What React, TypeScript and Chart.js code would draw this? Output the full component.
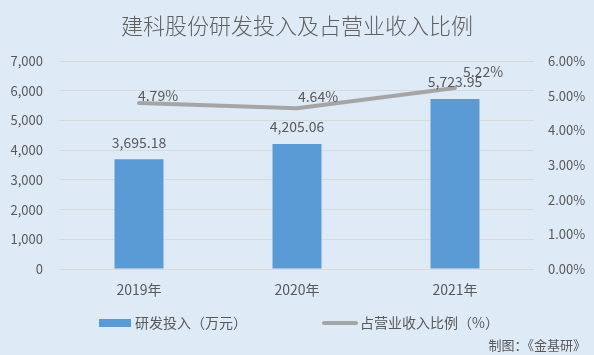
import React, { useEffect, useRef } from "react";
import { Chart, registerables } from "chart.js";

Chart.register(...registerables);

const TITLE = "建科股份研发投入及占营业收入比例";
const SOURCE = "制图：《金基研》";
const categories = ["2019年", "2020年", "2021年"];
const rdInvestment = [3695.18, 4205.06, 5723.95];
const rdRatio = [4.79, 4.64, 5.22];
const barSeriesName = "研发投入（万元）";
const lineSeriesName = "占营业收入比例（%）";
// label offsets for the ratio labels (style only)
const ratioLabelOffsets = [
  [19, -7],
  [21, -11],
  [28, -16],
];

const FONT = '"Noto Sans CJK SC", "Noto Sans", sans-serif';
const TEXT = "#595959";
const BG = "#DEEAF6";
const BAR = "#5B9BD5";
const LINE = "#A5A5A5";

const decorPlugin = {
  id: "decor",
  beforeDraw(chart: any) {
    const { ctx, width, height } = chart;
    ctx.save();
    ctx.fillStyle = BG;
    ctx.fillRect(0, 0, width, height);
    ctx.restore();
  },
  afterDraw(chart: any) {
    const { ctx, width } = chart;
    ctx.save();
    // title
    ctx.fillStyle = "#606060";
    ctx.font = `300 22px ${FONT}`;
    ctx.textAlign = "center";
    ctx.textBaseline = "middle";
    ctx.fillText(TITLE, width / 2, 26);

    // legend
    ctx.fillStyle = TEXT;
    ctx.font = `14px ${FONT}`;
    ctx.textAlign = "left";
    ctx.fillStyle = BAR;
    ctx.fillRect(99, 319, 32, 8);
    ctx.fillStyle = TEXT;
    ctx.fillText(barSeriesName, 135, 323);
    ctx.strokeStyle = LINE;
    ctx.lineWidth = 4;
    ctx.lineCap = "round";
    ctx.beginPath();
    ctx.moveTo(324, 323);
    ctx.lineTo(356, 323);
    ctx.stroke();
    ctx.fillText(lineSeriesName, 360, 323);

    // footer
    ctx.font = `13px ${FONT}`;
    ctx.textAlign = "right";
    ctx.fillText(SOURCE, 586, 345);
    ctx.restore();
  },
  afterDatasetsDraw(chart: any) {
    const { ctx } = chart;
    ctx.save();
    ctx.fillStyle = TEXT;
    ctx.font = `14px ${FONT}`;
    ctx.textBaseline = "middle";
    ctx.textAlign = "center";
    chart.data.datasets.forEach((ds: any, di: number) => {
      const meta = chart.getDatasetMeta(di);
      meta.data.forEach((el: any, i: number) => {
        const v = ds.data[i];
        if (ds.type === "line") {
          const [dx, dy] = ratioLabelOffsets[i];
          ctx.fillText(v.toFixed(2) + "%", el.x + dx, el.y + dy);
        } else {
          const s = v.toLocaleString("en-US", {
            minimumFractionDigits: 2,
            maximumFractionDigits: 2,
          });
          ctx.fillText(s, el.x, el.y - 17);
        }
      });
    });
    ctx.restore();
  },
};

export default function App() {
  const ref = useRef<HTMLCanvasElement>(null);
  useEffect(() => {
    const chart = new Chart(ref.current as HTMLCanvasElement, {
      type: "bar",
      data: {
        labels: categories,
        datasets: [
          {
            type: "line",
            label: lineSeriesName,
            data: rdRatio,
            yAxisID: "y1",
            borderColor: LINE,
            backgroundColor: LINE,
            borderWidth: 4,
            borderCapStyle: "round",
            pointRadius: 0,
            tension: 0,
            order: 0,
          } as any,
          {
            type: "bar",
            label: barSeriesName,
            data: rdInvestment,
            yAxisID: "y",
            backgroundColor: BAR,
            categoryPercentage: 1,
            barPercentage: 0.31,
            order: 1,
          } as any,
        ],
      },
      options: {
        responsive: false,
        animation: false,
        layout: { padding: { top: 61, bottom: 0, left: 0, right: 0 } },
        plugins: {
          legend: { display: false },
          title: { display: false },
          tooltip: { enabled: false },
        },
        scales: {
          x: {
            grid: { display: false },
            border: { display: false },
            ticks: { color: TEXT, font: { family: FONT, size: 14 }, padding: 4 },
            afterFit(scale: any) {
              scale.height = 86;
            },
          },
          y: {
            position: "left",
            min: 0,
            max: 7000,
            ticks: {
              stepSize: 1000,
              color: TEXT,
              font: { family: FONT, size: 13 },
              padding: 17,
              callback: (v: any) => Number(v).toLocaleString("en-US"),
            },
            grid: { color: "#D9D9D9", drawTicks: false, lineWidth: 1 },
            border: { display: false },
            afterFit(scale: any) {
              scale.width = 60;
            },
          },
          y1: {
            position: "right",
            min: 0,
            max: 6,
            ticks: {
              stepSize: 1,
              color: TEXT,
              font: { family: FONT, size: 13 },
              padding: 14,
              callback: (v: any) => Number(v).toFixed(2) + "%",
            },
            grid: { display: false, drawTicks: false },
            border: { display: false },
            afterFit(scale: any) {
              scale.width = 60;
            },
          },
        },
      },
      plugins: [decorPlugin],
    });
    return () => chart.destroy();
  }, []);
  return (
    <div style={{ position: "fixed", left: 0, top: 0, width: 594, height: 355, background: BG }}>
      <canvas ref={ref} width={594} height={355} style={{ width: 594, height: 355, display: "block" }} />
    </div>
  );
}
